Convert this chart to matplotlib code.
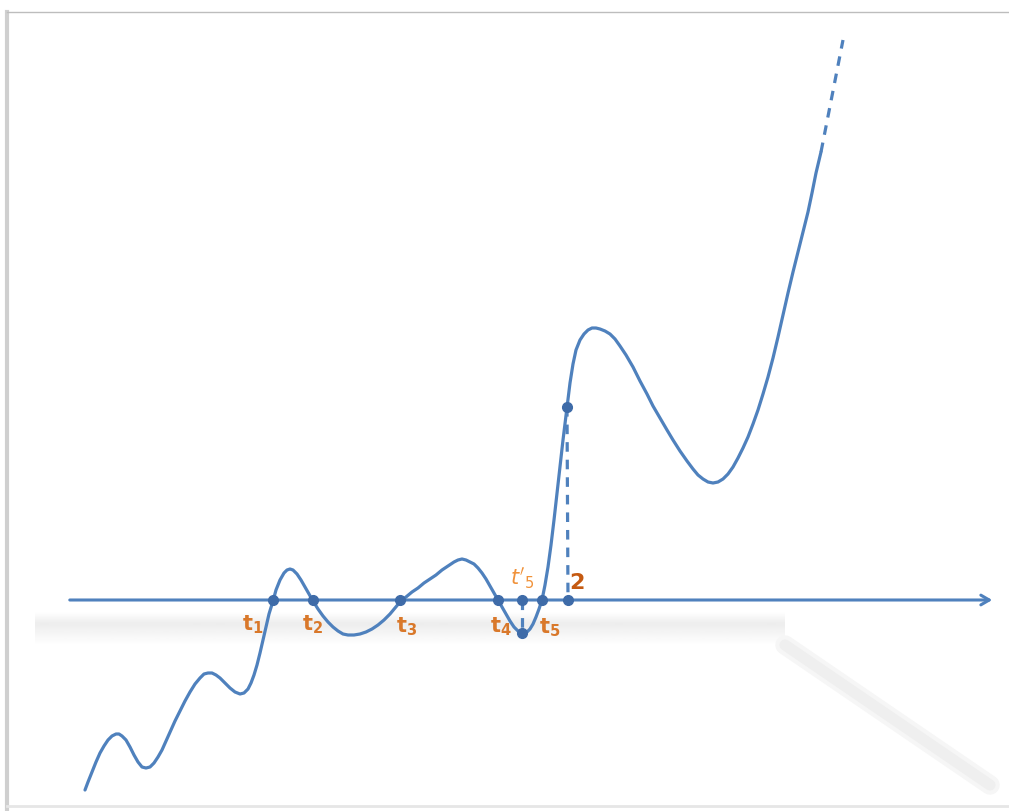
import numpy as np
import matplotlib.pyplot as plt

# curve (pixel coordinates, y grows downward)
curve_pts = [
    (85, 790), (88, 782), (92, 772), (96, 762), (100, 753), (104, 746), (108, 740), (112, 736),
    (116, 734), (119, 734), (122, 736), (126, 740), (130, 747), (134, 755), (138, 762),
    (142, 767), (146, 768), (150, 767), (154, 763), (158, 757), (162, 750), (166, 741),
    (170, 732), (175, 721), (180, 711), (185, 701), (190, 692), (195, 684), (200, 678),
    (204, 674), (208, 673), (212, 673), (216, 675), (220, 678), (225, 683), (230, 688),
    (235, 692), (240, 694), (244, 693), (248, 689), (251, 683), (254, 675), (257, 665),
    (260, 653), (263, 640), (266, 627), (269, 614), (273, 601), (276, 590), (280, 580),
    (284, 573), (287, 570), (290, 569), (293, 570), (297, 574), (301, 580), (305, 587),
    (309, 594), (313, 601), (318, 609), (323, 616), (328, 622), (333, 627), (338, 631),
    (343, 634), (348, 635), (354, 635), (360, 634), (366, 632), (372, 629), (378, 625),
    (384, 620), (390, 614), (395, 608), (400, 602), (406, 597), (412, 592), (418, 588),
    (424, 583), (430, 579), (436, 575), (442, 570), (448, 566), (454, 562), (458, 560),
    (462, 559), (466, 560), (470, 562), (474, 564), (478, 568), (482, 573), (486, 579),
    (490, 586), (494, 593), (498, 600), (502, 607), (506, 614), (510, 621), (514, 627),
    (518, 631), (521, 633), (524, 633), (527, 632), (530, 629), (533, 624), (536, 617),
    (539, 609), (542, 600), (545, 585), (548, 567), (551, 545), (554, 520), (557, 493),
    (560, 466), (563, 440), (567, 407), (570, 383), (573, 364), (576, 350), (580, 340),
    (584, 334), (588, 330), (592, 328), (596, 328), (600, 329), (605, 331), (610, 334),
    (615, 339), (620, 346), (626, 355), (633, 367), (640, 381), (647, 394), (653, 406),
    (660, 418), (667, 430), (673, 440), (680, 451), (687, 461), (693, 469), (698, 475),
    (703, 479), (708, 482), (713, 483), (718, 482), (723, 479), (728, 474), (733, 467),
    (738, 458), (743, 448), (748, 437), (753, 424), (758, 410), (763, 394), (768, 377),
    (773, 358), (778, 337), (783, 315), (788, 293), (793, 272), (798, 252), (803, 232),
    (808, 212), (812, 193), (816, 173), (821, 152),
]
curve_x = [p[0] for p in curve_pts]
curve_y = [p[1] for p in curve_pts]

# dashed continuation at the top
tail_x = [821, 843]
tail_y = [152, 40]

axis_y = 600
axis_x0, axis_x1 = 67, 995

# marked points on the axis
roots_x = [273, 313, 400, 498, 522, 542, 568]
labels = ['t_1', 't_2', 't_3', 't_4', 't_5', '2']

# extra points with dashed drops
drop_pts = [(522, 633), (567, 407)]

blue = '#4F81BD'
dot = '#3E6BA8'
orange = '#D9782A'

fig = plt.figure(figsize=(10.09, 8.11), dpi=100)
ax = fig.add_axes([0, 0, 1, 1])

# faint page frame / shadows from the screenshot
ax.plot([7, 7], [12, 811], color='#cfcfcf', lw=3, zorder=0)
ax.plot([7, 1009], [12, 12], color='#bdbdbd', lw=1, zorder=0)
ax.plot([7, 1009], [806, 806], color='#e6e6e6', lw=2, zorder=0)
grad = np.concatenate([np.linspace(1, 0.93, 12), np.linspace(0.93, 1, 22)])[:, None]
ax.imshow(grad, cmap='gray', vmin=0, vmax=1, extent=(35, 785, 646, 612),
          aspect='auto', zorder=0, interpolation='bilinear')
for w, c in [(14, '#f6f6f6'), (8, '#efefef')]:
    ax.plot([785, 990], [645, 785], color=c, lw=w, solid_capstyle='round', zorder=0)
ax.set_xlim(0, 1009)
ax.set_ylim(811, 0)
ax.set_axis_off()

# x axis with arrow
ax.annotate('', xy=(axis_x1, axis_y), xytext=(axis_x0, axis_y),
            arrowprops=dict(arrowstyle='->,head_length=0.6,head_width=0.35',
                            color=blue, lw=2.2), zorder=2)

ax.plot(curve_x, curve_y, color=blue, lw=2.3, zorder=3, solid_capstyle='round',
        solid_joinstyle='round')
ax.plot(tail_x, tail_y, color=blue, lw=2.3, ls=(0, (3, 2.5)), zorder=3)

# dashed drops
ax.plot([roots_x[4], drop_pts[0][0]], [axis_y, drop_pts[0][1]], color=blue, lw=2.3,
        ls=(0, (3, 2.5)), zorder=3)
ax.plot([drop_pts[1][0], roots_x[6]], [drop_pts[1][1], axis_y], color=blue, lw=2.3,
        ls=(0, (3, 2.5)), zorder=3)

ax.plot(roots_x, [axis_y] * len(roots_x), 'o', color=dot, ms=7, zorder=4)
ax.plot([p[0] for p in drop_pts], [p[1] for p in drop_pts], 'o', color=dot, ms=7, zorder=4)

# labels
lab_pos = [(253, 625), (313, 625), (407, 627), (501, 627), (550, 628)]
for (lx, ly), lab in zip(lab_pos, labels[:5]):
    ax.text(lx, ly, r'$\mathregular{%s}$' % lab, color=orange, fontsize=15,
            ha='center', va='center', fontweight='bold')
ax.text(522, 578, r"$t'_5$", color='#F0923A', fontsize=15, ha='center', va='center')
ax.text(577, 583, labels[5], color='#C55A11', fontsize=16, fontweight='bold',
        ha='center', va='center')

fig.savefig('out.png', dpi=100)
